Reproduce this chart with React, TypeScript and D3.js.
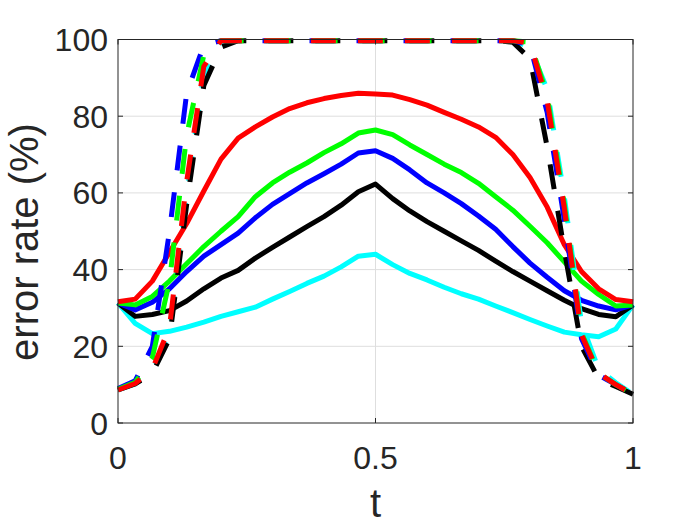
import * as d3 from 'd3';

const width = 700;
const height = 525;
const [left, right, top, bottom] = [118, 633, 39.5, 423];

// sample grid t = 0, 1/30, ..., 1
const tValues = d3.range(0, 31).map((i) => i / 30);

// solid curves
const redSolid = [31.6, 32.3, 37, 44.5, 52, 60.5, 68.8, 74.3, 77.2, 79.8, 82, 83.5, 84.6, 85.4, 86, 85.8, 85.5, 84.3, 82.9, 81, 79.2, 77.2, 74.5, 70, 64, 56.3, 46.5, 39.5, 35, 32.2, 31.6];
const greenSolid = [31.3, 30.8, 33, 37, 41.5, 46, 50, 53.8, 59, 62.6, 65.4, 67.8, 70.5, 72.8, 75.6, 76.4, 75.2, 72.5, 70, 67.5, 65.3, 62.5, 59, 55.5, 51.3, 47, 42, 37, 33.5, 30.5, 30.8];
const blueSolid = [31.3, 29.5, 31.5, 35, 39.5, 43.5, 46.5, 49.5, 53.5, 57, 59.8, 62.6, 65, 67.5, 70.4, 71, 69, 66, 62.6, 60, 57.2, 54, 50.5, 46, 41.7, 38, 34.5, 32, 30.5, 29.5, 30.8];
const blackSolid = [31.3, 27.8, 28.3, 29.3, 31.8, 35, 37.8, 39.8, 43, 45.8, 48.5, 51.2, 53.8, 56.8, 60.3, 62.3, 58.5, 55.3, 52.5, 50, 47.5, 45, 42.2, 39.5, 37, 34.5, 32, 29.8, 28.3, 27.7, 30.8];
const cyanSolid = [31.3, 26, 23.3, 23.9, 25, 26.3, 27.8, 29, 30.2, 32.3, 34.3, 36.4, 38.3, 40.7, 43.5, 44, 41.3, 39, 37.3, 35.4, 33.7, 32.3, 30.5, 28.8, 27, 25.3, 23.7, 23, 22.5, 24.5, 30.8];

// dashed curves
const redDashed = [8.6, 10.3, 14, 25, 63, 93, 99.7, 99.7, 99.7, 99.7, 99.7, 99.7, 99.7, 99.7, 99.7, 99.7, 99.7, 99.7, 99.7, 99.7, 99.7, 99.7, 99.7, 99.7, 99, 84, 56, 23, 13, 10, 7.5];
const greenDashed = [8.8, 10.6, 17, 37, 75, 96, 99.7, 99.7, 99.7, 99.7, 99.7, 99.7, 99.7, 99.7, 99.7, 99.7, 99.7, 99.7, 99.7, 99.7, 99.7, 99.7, 99.7, 99.7, 99.3, 85.5, 57, 23.5, 13, 10, 7.5];
const blueDashed = [9, 11, 20, 50, 86, 98.5, 99.7, 99.7, 99.7, 99.7, 99.7, 99.7, 99.7, 99.7, 99.7, 99.7, 99.7, 99.7, 99.7, 99.7, 99.7, 99.7, 99.7, 99.7, 98.5, 81, 53, 22, 12.5, 10, 7.5];
const blackDashed = [8.6, 10.2, 13, 22, 57, 88, 98, 99.7, 99.7, 99.7, 99.7, 99.7, 99.7, 99.7, 99.7, 99.7, 99.7, 99.7, 99.7, 99.7, 99.7, 99.7, 99.7, 99.3, 95, 72, 45, 20, 11.5, 9.5, 7.5];
const cyanDashed = [8.6, 10.2, 13.5, 23, 60, 91, 99.5, 99.7, 99.7, 99.7, 99.7, 99.7, 99.7, 99.7, 99.7, 99.7, 99.7, 99.7, 99.7, 99.7, 99.7, 99.7, 99.7, 99.7, 98, 87, 59, 26, 14, 10.5, 7.5];

const xTicks = [0, 0.5, 1];
const xTickLabels = ['0', '0.5', '1'];
const yTicks = [0, 20, 40, 60, 80, 100];

const solids = [
    { color: '#00ffff', values: cyanSolid },
    { color: '#000000', values: blackSolid },
    { color: '#0000ff', values: blueSolid },
    { color: '#00ff00', values: greenSolid },
    { color: '#ff0000', values: redSolid }
];

const dashed = [
    { color: '#00ffff', values: cyanDashed },
    { color: '#000000', values: blackDashed },
    { color: '#0000ff', values: blueDashed },
    { color: '#00ff00', values: greenDashed },
    { color: '#ff0000', values: redDashed }
];

const font = '"Liberation Sans", Arial, Helvetica, sans-serif';
const axisColor = '#262626';

export default function App() {
    const x = d3.scaleLinear().domain([0, 1]).range([left, right]);
    const y = d3.scaleLinear().domain([0, 100]).range([bottom, top]);

    const line = (values: number[]) =>
        d3
            .line<number>()
            .x((_, i) => x(tValues[i]))
            .y((d) => y(d))(values) || '';

    return (
        <svg
            width={width}
            height={height}
            style={{ position: 'absolute', left: 0, top: 0, background: '#fff' }}
            fontFamily={font}
        >
            {/* grid */}
            {yTicks.slice(1, -1).map((v) => (
                <line key={'gy' + v} x1={left} x2={right} y1={y(v)} y2={y(v)} stroke="#dedede" strokeWidth={1} />
            ))}
            {xTicks.slice(1, -1).map((v) => (
                <line key={'gx' + v} x1={x(v)} x2={x(v)} y1={top} y2={bottom} stroke="#dedede" strokeWidth={1} />
            ))}

            {/* curves */}
            {solids.map((s, i) => (
                <path key={'s' + i} d={line(s.values)} fill="none" stroke={s.color} strokeWidth={5} strokeLinejoin="round" />
            ))}
            {dashed.map((s, i) => (
                <path
                    key={'d' + i}
                    d={line(s.values)}
                    fill="none"
                    stroke={s.color}
                    strokeWidth={5}
                    strokeDasharray="25 22"
                    strokeLinejoin="round"
                />
            ))}

            {/* box */}
            <rect x={left} y={top} width={right - left} height={bottom - top} fill="none" stroke={axisColor} strokeWidth={1} />

            {/* ticks */}
            {yTicks.map((v) => (
                <g key={'ty' + v}>
                    <line x1={left} x2={left + 5} y1={y(v)} y2={y(v)} stroke={axisColor} />
                    <line x1={right} x2={right - 5} y1={y(v)} y2={y(v)} stroke={axisColor} />
                    <text x={left - 10} y={y(v) + 11.5} textAnchor="end" fontSize={32} fill={axisColor}>
                        {v}
                    </text>
                </g>
            ))}
            {xTicks.map((v, i) => (
                <g key={'tx' + v}>
                    <line x1={x(v)} x2={x(v)} y1={bottom} y2={bottom - 5} stroke={axisColor} />
                    <line x1={x(v)} x2={x(v)} y1={top} y2={top + 5} stroke={axisColor} />
                    <text x={x(v)} y={469} textAnchor="middle" fontSize={32} fill={axisColor}>
                        {xTickLabels[i]}
                    </text>
                </g>
            ))}

            {/* labels */}
            <text x={x(0.5)} y={517} textAnchor="middle" fontSize={40} fill={axisColor}>
                t
            </text>
            <text transform="translate(38, 242) rotate(-90)" textAnchor="middle" fontSize={40} fill={axisColor}>
                error rate (%)
            </text>
        </svg>
    );
}
